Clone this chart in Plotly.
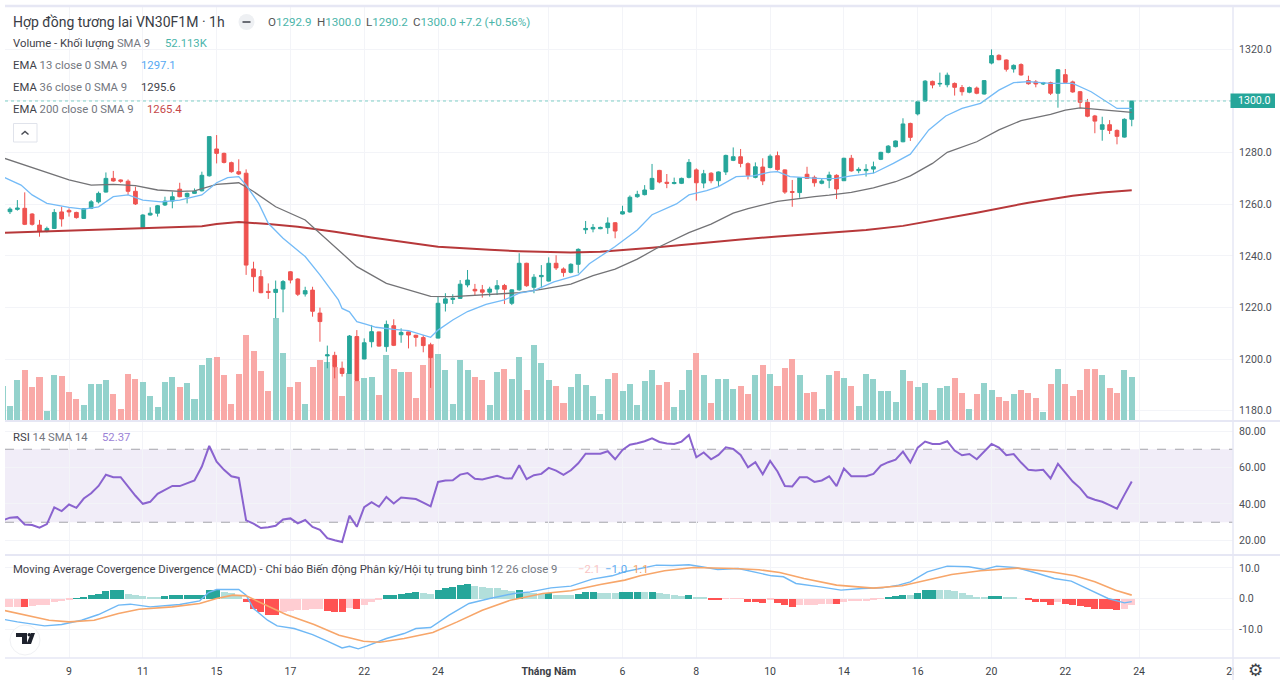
import plotly.graph_objects as go

# ---- data ----
open_ = [1257.0,1257.1,1258.0,1258.4,1256.2,1251.9,1249.4,1250.6,1257.0,1257.6,
1256.8,1254.5,1258.4,1260.9,1264.7,1270.0,1269.4,1268.9,1265.0,1250.9,
1255.8,1256.5,1259.7,1261.2,1265.8,1262.9,1264.2,1265.2,1271.0,1281.4,
1279.7,1276.1,1272.6,1272.0,1234.9,1231.9,1226.2,1225.8,1227.1,1233.8,
1231.0,1225.2,1226.7,1217.8,1201.2,1201.4,1196.4,1194.4,1208.7,1200.0,
1206.7,1210.5,1204.8,1212.9,1209.4,1210.5,1209.2,1208.3,1205.4,1208.1,
1221.6,1223.1,1223.5,1228.7,1227.0,1226.8,1225.9,1227.1,1228.5,1221.6,
1226.8,1237.1,1227.8,1231.9,1230.2,1237.1,1234.9,1233.6,1236.7,1250.1,
1250.4,1250.5,1250.9,1252.8,1256.2,1257.0,1262.9,1263.7,1265.8,1273.1,
1268.5,1268.0,1268.1,1270.4,1273.3,1268.2,1272.0,1269.1,1272.5,1277.0,
1278.4,1275.7,1270.4,1274.4,1274.2,1278.8,1273.3,1264.9,1264.5,1271.6,
1270.4,1268.1,1269.3,1271.2,1269.1,1277.8,1273.0,1273.0,1273.6,1277.4,
1280.1,1282.3,1284.2,1291.3,1295.0,1300.0,1307.6,1306.6,1306.3,1306.8,
1305.2,1303.4,1305.0,1302.7,1314.7,1317.7,1315.9,1312.4,1314.1,1307.9,
1307.4,1306.6,1307.1,1303.0,1310.2,1307.4,1303.6,1299.5,1294.2,1289.0,
1290.8,1288.6,1286.0,1292.9]
high = [1258.0,1258.8,1261.6,1264.6,1256.5,1253.9,1251.3,1258.1,1259.0,1258.4,
1257.1,1258.4,1261.6,1264.9,1272.3,1272.9,1269.6,1269.6,1266.8,1256.1,
1258.8,1259.7,1262.9,1264.9,1268.3,1264.5,1266.1,1272.6,1286.2,1286.8,
1280.0,1276.5,1277.4,1273.5,1237.7,1234.5,1229.3,1230.4,1230.6,1234.1,
1231.3,1228.0,1228.0,1219.9,1205.2,1202.8,1199.0,1209.3,1211.2,1208.0,
1213.2,1210.6,1214.9,1215.4,1211.9,1210.6,1209.4,1209.3,1206.3,1224.2,
1225.5,1225.1,1230.6,1234.5,1229.1,1228.7,1228.0,1230.6,1229.1,1227.0,
1241.0,1237.3,1232.9,1236.4,1239.4,1240.2,1235.5,1237.1,1242.9,1253.5,
1252.3,1251.3,1254.9,1253.1,1259.4,1263.4,1265.2,1267.4,1275.6,1273.3,
1271.7,1270.3,1270.3,1277.5,1273.9,1273.3,1272.4,1272.7,1279.2,1282.0,
1281.4,1276.2,1276.2,1277.8,1279.3,1280.4,1273.5,1269.4,1270.5,1274.5,
1271.1,1270.0,1272.6,1271.6,1278.0,1279.1,1274.3,1275.5,1276.5,1280.3,
1282.9,1284.7,1293.3,1291.6,1300.1,1308.1,1307.9,1311.0,1311.0,1307.2,
1306.2,1305.6,1305.6,1308.1,1320.0,1318.1,1316.1,1314.2,1314.6,1309.8,
1308.1,1307.4,1307.5,1312.4,1312.4,1307.9,1303.9,1300.8,1294.6,1293.9,
1292.6,1289.0,1293.3,1300.0]
low = [1256.5,1256.2,1257.5,1251.9,1251.7,1247.4,1249.1,1250.4,1251.3,1255.2,
1254.4,1254.3,1258.1,1260.3,1264.5,1268.7,1268.3,1263.6,1259.7,1250.6,
1255.6,1255.2,1259.3,1258.4,1262.7,1260.3,1264.0,1264.9,1270.7,1275.8,
1275.8,1272.2,1271.3,1232.6,1226.1,1225.5,1223.3,1215.8,1218.1,1229.3,
1224.4,1224.2,1216.4,1206.7,1196.4,1192.5,1193.2,1194.2,1191.6,1199.9,
1204.5,1204.8,1202.8,1205.0,1206.3,1204.1,1204.8,1202.6,1188.8,1208.0,
1218.4,1221.3,1223.3,1227.8,1224.6,1223.8,1224.2,1224.8,1221.3,1220.9,
1226.5,1228.0,1225.5,1227.4,1230.0,1234.5,1231.9,1233.2,1233.2,1248.5,
1249.1,1250.3,1248.5,1246.8,1256.0,1256.7,1262.5,1263.4,1265.5,1268.1,
1266.2,1267.7,1267.8,1270.0,1261.4,1266.2,1268.1,1266.8,1271.3,1276.7,
1274.3,1269.6,1270.0,1267.4,1273.9,1273.0,1264.0,1259.0,1262.5,1269.8,
1266.8,1267.7,1266.2,1262.0,1269.0,1272.6,1272.0,1270.7,1272.0,1277.1,
1279.7,1282.0,1284.0,1284.5,1294.4,1299.7,1304.9,1305.5,1305.3,1302.1,
1302.1,1303.0,1302.6,1302.5,1314.2,1315.8,1311.4,1311.0,1309.8,1306.3,
1305.3,1306.2,1302.3,1297.4,1306.8,1303.2,1297.2,1293.7,1287.5,1284.6,
1287.2,1283.2,1285.8,1290.2]
close = [1257.5,1258.1,1258.5,1252.2,1252.2,1249.4,1250.6,1256.8,1254.3,1257.0,
1254.8,1258.3,1260.9,1264.2,1270.0,1269.0,1268.9,1265.0,1260.1,1255.8,
1256.5,1259.4,1261.2,1262.9,1262.9,1264.2,1265.0,1271.2,1286.2,1279.7,
1276.2,1272.6,1271.7,1236.4,1231.9,1225.7,1225.8,1227.0,1230.0,1230.6,
1225.1,1226.5,1218.5,1214.5,1201.6,1197.0,1194.4,1208.9,1191.6,1206.3,
1210.6,1205.0,1213.4,1205.3,1210.3,1209.3,1208.4,1205.2,1200.6,1221.6,
1223.3,1223.5,1229.0,1230.6,1226.4,1225.9,1227.1,1228.4,1227.0,1226.8,
1237.1,1228.4,1231.7,1232.4,1237.1,1235.3,1233.5,1236.7,1242.5,1250.6,
1251.0,1251.0,1252.7,1249.6,1257.1,1262.7,1263.8,1265.5,1270.0,1268.6,
1268.1,1268.4,1270.0,1276.2,1268.3,1271.8,1269.1,1272.5,1278.9,1278.4,
1275.8,1271.1,1274.5,1269.0,1278.6,1273.4,1264.7,1264.6,1270.3,1270.0,
1268.3,1269.0,1271.3,1265.9,1277.8,1272.9,1273.5,1273.5,1274.5,1280.1,
1282.5,1284.5,1291.1,1285.9,1299.7,1307.7,1306.2,1306.8,1310.0,1305.3,
1303.6,1305.2,1303.0,1307.9,1317.6,1316.0,1312.3,1313.8,1310.1,1306.7,
1306.6,1307.1,1303.0,1312.1,1307.2,1303.5,1299.5,1294.1,1292.2,1290.8,
1288.6,1286.3,1292.9,1300.0]
volume = [45.4,19.4,53.6,66.1,43.6,57.5,13.4,59.6,58.8,37.6,
28.1,20.3,47.5,48.0,53.1,34.6,15.1,61.3,54.9,50.5,
32.8,18.6,50.5,57.5,44.5,49.2,28.5,72.6,81.6,82.9,
59.2,21.6,61.3,111.0,90.7,64.4,39.3,133.1,88.1,44.5,
50.1,21.6,70.4,78.6,76.5,69.6,32.0,61.8,52.3,55.3,
56.6,33.7,85.1,67.8,63.1,63.9,29.4,72.6,99.8,86.4,
65.7,22.5,79.5,65.7,56.6,53.6,21.2,63.5,67.0,54.0,
82.5,39.7,98.9,74.7,52.7,45.4,23.3,44.1,60.9,46.2,
32.4,9.1,54.4,62.2,38.4,48.4,21.2,52.3,66.5,46.2,
50.5,18.1,40.2,66.5,88.1,59.6,23.8,54.9,54.9,41.0,
45.4,35.4,59.2,72.1,60.9,44.9,69.1,80.4,59.2,36.7,
38.0,15.1,59.6,64.4,55.3,45.8,19.9,61.3,54.9,39.3,
39.3,24.2,65.7,51.8,44.1,48.8,14.7,43.2,44.9,56.2,
36.3,15.6,35.4,49.2,40.6,30.7,25.9,34.6,40.2,36.3,
29.4,11.7,48.4,67.4,47.5,32.0,40.6,67.0,67.0,60.0,
42.3,35.9,66.1,56.6]
rsi = [31.0,32.5,32.8,28.8,28.5,27.0,29.0,38.1,36.1,39.7,
37.9,43.0,45.9,49.9,56.0,54.7,54.7,49.6,44.5,40.1,
41.2,45.6,47.8,49.9,49.8,51.4,52.9,60.5,71.8,63.2,
58.7,55.2,54.3,31.0,29.2,26.8,27.2,28.1,31.5,32.1,
29.4,31.2,27.4,25.9,21.3,20.1,19.2,33.6,27.5,38.3,
41.0,38.5,43.9,40.3,43.6,43.2,42.7,40.8,38.7,52.1,
52.9,53.0,56.1,57.0,53.8,53.4,54.3,55.4,54.1,54.0,
61.2,53.6,55.8,56.5,59.8,58.3,56.0,58.5,62.3,67.6,
67.6,67.6,68.9,64.5,69.6,72.5,73.3,74.4,76.0,74.0,
73.1,72.9,74.2,77.8,65.6,68.2,64.5,66.9,71.1,70.2,
66.9,60.1,62.9,56.3,63.6,57.8,49.9,49.6,54.7,54.7,
52.1,52.9,55.2,49.8,59.4,55.2,55.2,55.2,56.5,61.1,
62.9,64.3,68.7,62.7,70.9,74.2,72.9,72.9,74.4,69.3,
66.7,67.4,64.5,68.5,72.9,70.9,66.7,67.4,62.7,58.7,
58.3,58.7,54.0,62.0,57.2,52.3,48.7,43.8,42.3,41.2,
39.4,37.4,45.0,52.37]
macd_hist = [-2.8,-2.75,-2.7,-2.8,-2.5,-2.17,-1.96,-1.30,-0.76,-0.33,
0.1,0.43,1.09,1.63,2.5,2.72,2.73,1.63,1.30,0.87,
0.65,0.64,0.87,0.98,0.99,1.0,1.01,1.30,2.72,2.73,
2.17,1.85,1.30,-1.09,-3.26,-4.35,-5.22,-5.25,-4.35,-4.02,
-3.80,-3.59,-3.48,-3.37,-3.91,-4.35,-4.36,-3.04,-3.26,-2.17,
-1.09,-0.33,1.09,1.10,1.63,1.85,1.96,1.74,1.52,2.72,
3.48,3.70,4.35,4.57,4.13,3.80,3.48,3.26,2.83,2.50,
2.72,2.17,1.85,1.63,1.74,1.30,1.29,1.20,1.41,1.96,
2.17,1.85,1.74,1.73,2.17,2.18,2.19,1.96,2.17,1.74,
1.41,1.20,0.87,1.09,0.43,0.22,-0.33,-0.34,-0.11,-0.10,
-0.09,-0.98,-0.99,-1.52,-0.54,-1.41,-2.17,-2.61,-2.17,-2.1,
-2.0,-1.9,-1.8,-1.85,-1.09,-0.87,-0.86,-0.76,-0.54,-0.11,
0.22,0.76,1.09,1.08,1.85,2.72,2.93,2.83,2.61,2.39,
1.74,1.09,0.54,0.33,0.76,0.87,0.54,0.33,0.0,-0.43,
-1.09,-1.30,-1.96,-0.98,-1.85,-1.96,-2.39,-2.83,-3.26,-3.27,
-3.37,-3.80,-3.26,-2.1]

ema200_x = [0,8,17,27,29,32,36,40,45,50,58,59,66,70,77,81,88,94,100,105,113,117,122,126,132,139,145,149,153]
ema200_y = [1248.9,1249.7,1250.7,1251.5,1252.3,1253.1,1252.3,1251.3,1249.3,1247.1,1243.9,1243.5,1242.3,1241.8,1241.3,1241.6,1243.1,1244.8,1246.3,1247.5,1249.2,1250.0,1251.6,1253.6,1256.7,1260.6,1263.3,1264.5,1265.4]
ema36_x = [0,5,9,12,15,18,21,24,26,29,32,34,37,41,43,46,48,52,56,58,61,65,70,73,77,80,83,86,89,93,96,99,101,105,107,110,112,115,118,121,123,126,128,132,135,138,142,144,146,148,151,153]
ema36_y = [1278.0,1273.3,1269.4,1267.4,1267.7,1267.2,1265.5,1265.0,1265.2,1267.7,1268.3,1264.9,1259.0,1253.9,1248.7,1241.0,1235.8,1229.3,1226.1,1224.3,1224.2,1224.8,1225.7,1227.0,1229.0,1232.3,1234.8,1238.7,1243.5,1249.0,1252.3,1256.5,1258.3,1261.1,1261.9,1262.9,1263.5,1264.6,1266.3,1268.7,1271.0,1275.8,1280.1,1284.2,1288.8,1292.4,1294.8,1296.5,1297.3,1296.8,1295.9,1295.6]
ema13_x = [0,2.5,4,6,9,11,13,15,17,19,21.5,24,27,29,30.5,32,33,34.7,36,38,41,43,45.5,46,47,48,49.3,50.6,53,55,58,59,61,63,65.5,68,70,72,74.7,78,79.5,83,86,88,91.3,93,95.4,97,99.4,101.7,104,105,106.7,111,113,115,118,120.7,123,125.5,127.8,130,132.5,135,137,139,142,145,147.5,149.4,151,153]
ema13_y = [1270.7,1267.4,1263.6,1260.3,1258.8,1258.1,1259.0,1262.9,1263.6,1261.6,1260.9,1261.6,1263.6,1268.3,1270.3,1270.7,1267.4,1260.3,1252.6,1246.8,1239.7,1232.6,1222.9,1219.6,1218.3,1214.5,1213.4,1212.3,1211.5,1211.0,1208.4,1211.2,1215.1,1218.4,1221.2,1222.9,1225.5,1226.5,1229.9,1232.6,1236.9,1243.6,1250.0,1255.9,1260.1,1263.6,1265.3,1266.8,1270.7,1271.0,1272.4,1272.6,1270.7,1269.9,1270.0,1271.0,1272.0,1275.8,1279.4,1288.8,1294.2,1297.1,1299.1,1304.2,1307.1,1307.5,1306.8,1306.8,1303.6,1300.1,1297.1,1297.1]

macd_x = [0,2,5.7,8,10.7,13,15.7,17.3,20,24,26.7,27.9,29,32,33,34,35.9,37.2,39.5,42,44,46,47,48.2,49.4,52,54.4,56,58,60.5,63.2,66,69.3,71.5,74.3,77,79.9,82.6,84.3,86.4,88.6,90.8,93,94.7,96.9,99.7,102.5,104.2,105.8,107.5,110.8,113.6,116.4,119.2,121.4,123,125.3,128,130.9,133,134.7,137.5,140.3,142.5,144.8,147,149.8,152,153]
macd_y = [-6.74,-7.61,-8.91,-8.48,-7.07,-5.22,-2.17,-1.85,-2.72,-1.96,-0.76,1.96,2.93,2.93,1.09,-3.26,-7.07,-8.91,-9.78,-11.74,-13.91,-16.09,-15.54,-16.41,-15.43,-13.04,-11.41,-9.78,-9.46,-5.43,-1.63,0,1.63,2.17,3.48,4.02,6.30,7.39,8.70,9.78,10.87,10.76,10.98,10.33,9.46,9.78,8.15,7.39,7.07,4.89,3.80,2.72,3.26,3.48,4.35,5.43,8.70,10.54,10.33,9.46,10.54,10.0,8.15,6.52,5.65,3.26,0,-1.41,-1.0]
signal_x = [0,3,6.3,9,12.4,15.7,18.5,23,26.7,29,31.2,33,35.6,38.4,42.2,45.6,48.9,51.1,54.4,58.3,61.6,65,68.8,73.2,77,81,84.3,86.4,89.7,93.6,99.1,102.5,105.3,108.6,113,118,121.9,125.3,128.6,132.5,137.5,142,145.3,148,150.8,153]
signal_y = [-3.80,-5.43,-7.07,-7.61,-7.07,-4.89,-3.48,-2.72,-1.63,0,1.09,0.87,-2.17,-5.22,-8.48,-11.96,-13.91,-14.24,-13.04,-11.09,-7.61,-3.80,-0.54,1.63,2.5,4.57,5.98,7.39,9.02,10.11,9.78,9.35,8.48,6.52,4.35,3.37,4.13,5.98,7.83,9.02,9.89,8.70,7.39,5.43,2.72,1.1]

time_ticks = [9,19,29,39,49,59,74,84,94,104,114,124,134,144,154,166.6]
time_labels = ["9","11","15","17","22","24","<b>Tháng Năm</b>","6","8","10","14","16","20","22","24","28"]
price_ticks = [1180,1200,1220,1240,1260,1280,1300,1320]
rsi_ticks = [20,40,60,80]
macd_ticks = [-10,0,10]

for series in (open_, high, low, close, volume, rsi, macd_hist):
    assert len(series) == 154, len(series)
bars = list(range(154))

GREEN, RED = "#26a69a", "#ef5350"
GRID = "#f3f4f8"
SEP = "#e6e7f4"
FONT = "Roboto"
W, H = 1280, 680
px = lambda v: v / W
py = lambda v: 1 - v / H

vol_colors = ["#93d2cc" if c >= o else "#f9a9a7" for o, c in zip(open_, close)]
hist_colors = []
for i, v in enumerate(macd_hist):
    prev = macd_hist[i - 1] if i else v
    if v >= 0:
        hist_colors.append("#26a69a" if v >= prev else "#b2dfdb")
    else:
        hist_colors.append("#ff5252" if v < prev else "#ffcdd2")

fig = go.Figure()
fig.add_bar(x=bars, y=volume, marker=dict(color=vol_colors, line=dict(width=0)), width=0.82,
            xaxis="x", yaxis="y", hoverinfo="skip")
fig.add_candlestick(x=bars, open=open_, high=high, low=low, close=close, xaxis="x", yaxis="y4",
                    whiskerwidth=0,
                    increasing=dict(line=dict(color=GREEN, width=1), fillcolor=GREEN),
                    decreasing=dict(line=dict(color=RED, width=1), fillcolor=RED))
fig.add_scatter(x=ema200_x, y=ema200_y, mode="lines", line=dict(color="#b7383a", width=2), xaxis="x", yaxis="y4")
fig.add_scatter(x=ema36_x, y=ema36_y, mode="lines", line=dict(color="#737376", width=1.3), xaxis="x", yaxis="y4")
fig.add_scatter(x=ema13_x, y=ema13_y, mode="lines", line=dict(color="#74bbf7", width=1.3), xaxis="x", yaxis="y4")
fig.add_scatter(x=bars, y=rsi, mode="lines", line=dict(color="#8a63cf", width=2), xaxis="x2", yaxis="y2")
fig.add_bar(x=bars, y=macd_hist, marker=dict(color=hist_colors, line=dict(width=0)), width=0.95,
            xaxis="x3", yaxis="y3", hoverinfo="skip")
fig.add_scatter(x=macd_x, y=macd_y, mode="lines", line=dict(color="#6fb8f5", width=1.4), xaxis="x3", yaxis="y3")
fig.add_scatter(x=signal_x, y=signal_y, mode="lines", line=dict(color="#f7a66a", width=1.6), xaxis="x3", yaxis="y3")

xrange = [0.325, 166.72]
xcommon = dict(range=xrange, showgrid=True, gridcolor=GRID, gridwidth=1, zeroline=False, automargin=False,
               tickmode="array", tickvals=time_ticks, ticktext=time_labels, showline=False)
ycommon = dict(showgrid=True, gridcolor=GRID, gridwidth=1, zeroline=False, side="right", showline=False,
               automargin=False, ticks="outside", ticklen=3, tickcolor="rgba(0,0,0,0)",
               tickfont=dict(family=FONT, size=10.6, color="#4c4f57"))

fig.update_layout(
    width=W, height=H, margin=dict(l=0, r=0, t=0, b=0, autoexpand=False), showlegend=False,
    paper_bgcolor="white", plot_bgcolor="white", bargap=0, boxgap=0.28, barmode="overlay",
    font=dict(family=FONT, size=11.3, color="#4c4f57"),
    xaxis=dict(xcommon, domain=[px(5), px(1233)], anchor="y", rangeslider=dict(visible=False), showticklabels=False),
    xaxis2=dict(xcommon, domain=[px(5), px(1233)], anchor="y2", matches="x", showticklabels=False),
    xaxis3=dict(xcommon, domain=[px(5), px(1233)], anchor="y3", matches="x", showticklabels=True,
                ticks="outside", ticklen=3, tickcolor="rgba(0,0,0,0)",
                tickfont=dict(family=FONT, size=10.5, color="#3c3f47")),
    yaxis=dict(domain=[py(421), py(7)], range=[0, 536.5], visible=False, fixedrange=True, anchor="x", automargin=False),
    yaxis4=dict(ycommon, domain=[py(421), py(7)], overlaying="y", anchor="x", range=[1175.97, 1336.43],
                tickmode="array", tickvals=price_ticks,
                ticktext=["" if v == close[-1] else f"{v:.1f}" for v in price_ticks]),
    yaxis2=dict(ycommon, domain=[py(555), py(421)], anchor="x2", range=[12.05, 85.48],
                tickmode="array", tickvals=rsi_ticks, ticktext=[f"{v:.2f}" for v in rsi_ticks]),
    yaxis3=dict(ycommon, domain=[py(658), py(555)], anchor="x3", range=[-19.38, 14.17],
                tickmode="array", tickvals=macd_ticks, ticktext=[f"{v:.1f}" for v in macd_ticks]),
)


def line(x0, y0, x1, y1, color=SEP, width=1.5, layer="above"):
    fig.add_shape(type="line", xref="paper", yref="paper", x0=px(x0), x1=px(x1), y0=py(y0), y1=py(y1),
                  line=dict(color=color, width=width), layer=layer)


def rect(x0, y0, x1, y1, fill, border=None, layer="above"):
    fig.add_shape(type="rect", xref="paper", yref="paper", x0=px(x0), x1=px(x1), y0=py(y0), y1=py(y1),
                  fillcolor=fill, line=dict(color=border or fill, width=1 if border else 0), layer=layer)


def text(x, y, s, size=11.3, color="#4c4f57", anchor="left", family=FONT):
    fig.add_annotation(xref="paper", yref="paper", x=px(x), y=py(y), text=s, showarrow=False,
                       xanchor=anchor, yanchor="middle", align="left", xshift=0, borderpad=0,
                       font=dict(family=family, size=size, color=color))


# RSI band and levels
fig.add_shape(type="rect", xref="x2", yref="y2", x0=xrange[0], x1=xrange[1], y0=30, y1=70,
              fillcolor="rgba(126,87,194,0.11)", line=dict(width=0), layer="below")
for level in (70, 30):
    fig.add_shape(type="line", xref="x2", yref="y2", x0=xrange[0], x1=xrange[1], y0=level, y1=level,
                  line=dict(color="#a4a4aa", width=1, dash="dash"), layer="below")
# last-price line
fig.add_shape(type="line", xref="x", yref="y4", x0=xrange[0], x1=xrange[1], y0=close[-1], y1=close[-1],
              line=dict(color="#7fcfc6", width=1, dash="dot"), layer="above")

# pane frames
rect(1233.5, 659, 1280, 680, "white")
line(5, 6, 1280, 6, width=2.5)
line(5, 421, 1280, 421, width=2)
line(5, 555, 1280, 555, width=2)
line(5, 658, 1280, 658, width=1.5)
line(1233, 6, 1233, 680, width=1.5)

# price label
rect(1230.5, 93.5, 1275, 108, GREEN)
text(1254.5, 100.8, "1300.0", size=10.6, color="white", anchor="center")

# header legends
text(12, 22, "Hợp đồng tương lai VN30F1M · 1h", size=14, color="#3a3d45")
fig.add_shape(type="circle", xref="paper", yref="paper", x0=px(238.5), x1=px(254.5), y0=py(30), y1=py(14),
              fillcolor="#eef0f3", line=dict(width=0), layer="above")
line(242.5, 22, 250.5, 22, color="#6a6d75", width=2)
teal = "#4bb5aa"
label = "#555"
text(267, 22, f'<span style="color:{label}">O</span><span style="color:{teal}">1292.9</span>', size=11.6)
text(315.5, 22, f'<span style="color:{label}">H</span><span style="color:{teal}">1300.0</span>', size=11.6)
text(365, 22, f'<span style="color:{label}">L</span><span style="color:{teal}">1290.2</span>', size=11.6)
text(412, 22, f'<span style="color:{label}">C</span><span style="color:{teal}">1300.0 +7.2 (+0.56%)</span>', size=11.6)
dark, grey = "#3f424a", "#74777f"
text(12, 44, f'<span style="color:{dark}">Volume - Khối lượng</span> <span style="color:{grey}">SMA 9</span>')
text(164, 44, "52.113K", color=teal)
text(12, 66, f'<span style="color:{dark}">EMA</span> <span style="color:{grey}">13 close 0 SMA 9</span>')
text(140, 66, "1297.1", color="#55a8f2")
text(12, 88, f'<span style="color:{dark}">EMA</span> <span style="color:{grey}">36 close 0 SMA 9</span>')
text(140, 88, "1295.6", color=dark)
text(12, 110, f'<span style="color:{dark}">EMA</span> <span style="color:{grey}">200 close 0 SMA 9</span>')
text(146, 110, "1265.4", color="#c6484a")
rect(13.5, 123.5, 37, 142, "white", border="#e0e3eb")
fig.add_shape(type="path", xref="paper", yref="paper", layer="above",
              path=f"M {px(21.5)} {py(134.5)} L {px(25)} {py(131.5)} L {px(28.5)} {py(134.5)}",
              line=dict(color="#4a4d55", width=1.5))

text(12, 437, f'<span style="color:{dark}">RSI</span> <span style="color:{grey}">14 SMA 14</span>')
text(101, 437, "52.37", color="#9b82d6")
text(12, 569, f'<span style="color:{dark}">Moving Average Covergence Divergence (MACD) - Chỉ báo Biến động Phân kỳ/Hội tụ trung bình</span> '
              f'<span style="color:{grey}">12 26 close 9</span>')
text(577, 569, "\u22122.1", color="#f9c4c4")
text(604, 569, "\u22121.0", color="#5aaaf0")
text(632, 569, "1.1", color="#f5a25f")

# TradingView mark
fig.add_shape(type="circle", xref="paper", yref="paper", x0=px(10), x1=px(40), y0=py(655), y1=py(625),
              fillcolor="rgba(255,255,255,0.85)", line=dict(color="#f0f1f4", width=1), layer="above")
tv_paths = [
    [(16, 633), (27, 633), (27, 644), (22, 644), (22, 637), (16, 637)],
    [(31, 633), (35, 633), (31, 644), (26.5, 644)],
]
for poly in tv_paths:
    d = "M " + " L ".join(f"{px(a)} {py(b)}" for a, b in poly) + " Z"
    fig.add_shape(type="path", xref="paper", yref="paper", path=d, fillcolor="#1e222d", line=dict(width=0), layer="above")
fig.add_shape(type="circle", xref="paper", yref="paper", x0=px(27.5), x1=px(31), y0=py(636.5), y1=py(633),
              fillcolor="#1e222d", line=dict(width=0), layer="above")

text(1255, 670, "\u2699", size=17, color="#3a3d45", anchor="center", family="DejaVu Sans")

fig.write_html("out.html", post_script="document.body.style.margin='0';", config=dict(displayModeBar=False))
